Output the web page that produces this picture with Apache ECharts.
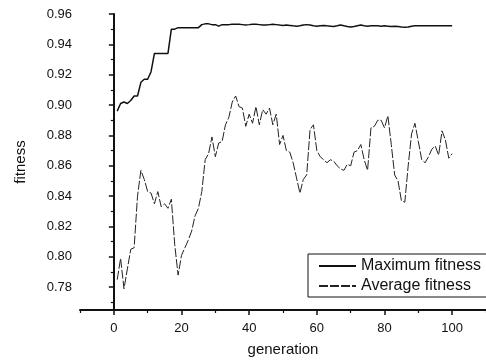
<!DOCTYPE html>
<html>
<head>
<meta charset="utf-8">
<script src="https://cdn.jsdelivr.net/npm/echarts@6/dist/echarts.min.js"></script>
<style>
  html, body { margin: 0; padding: 0; background: #fff; }
  #chart { width: 486px; height: 362px; }
</style>
</head>
<body>
<div id="chart"></div>
<script>
// generations 1..100
const generations = Array.from({ length: 100 }, (_, i) => i + 1);

const maxFitness = [
  0.896, 0.901, 0.902, 0.901, 0.903, 0.906, 0.906, 0.915, 0.917, 0.917,
  0.922, 0.934, 0.934, 0.934, 0.934, 0.934, 0.950, 0.950, 0.951, 0.951,
  0.951, 0.951, 0.951, 0.951, 0.951, 0.953, 0.9535, 0.9535, 0.953, 0.953,
  0.952, 0.953, 0.953, 0.953, 0.9532, 0.9533, 0.9532, 0.9530, 0.9528, 0.9530,
  0.9533, 0.9532, 0.9530, 0.9528, 0.9527, 0.9530, 0.9532, 0.9530, 0.9527, 0.9525,
  0.9527, 0.9525, 0.9522, 0.9520, 0.9522, 0.9527, 0.9530, 0.9527, 0.9522, 0.9520,
  0.9523, 0.9525, 0.9522, 0.9520, 0.9518, 0.9522, 0.9527, 0.9522, 0.9518, 0.9515,
  0.9518, 0.9523, 0.9527, 0.9523, 0.9520, 0.9522, 0.9523, 0.9522, 0.9520, 0.9522,
  0.9520, 0.9518, 0.9520, 0.9518, 0.9515, 0.9513, 0.9515, 0.9520, 0.9522, 0.9523,
  0.9522, 0.9522, 0.9523, 0.9522, 0.9523, 0.9522, 0.9523, 0.9522, 0.9523, 0.9523,
];

const avgFitness = [
  0.785, 0.799, 0.779, 0.792, 0.805, 0.806, 0.840, 0.857, 0.851, 0.843,
  0.842, 0.835, 0.843, 0.833, 0.835, 0.832, 0.838, 0.808, 0.788, 0.801,
  0.806, 0.811, 0.817, 0.827, 0.832, 0.843, 0.864, 0.868, 0.879, 0.866,
  0.875, 0.876, 0.887, 0.892, 0.902, 0.906, 0.899, 0.898, 0.886, 0.894,
  0.888, 0.899, 0.887, 0.897, 0.894, 0.898, 0.887, 0.894, 0.874, 0.880,
  0.870, 0.869, 0.862, 0.852, 0.842, 0.851, 0.854, 0.884, 0.887, 0.870,
  0.866, 0.864, 0.862, 0.864, 0.863, 0.860, 0.858, 0.857, 0.861, 0.860,
  0.869, 0.870, 0.874, 0.864, 0.857, 0.885, 0.886, 0.890, 0.890, 0.885,
  0.893, 0.874, 0.854, 0.850, 0.837, 0.836, 0.860, 0.881, 0.888, 0.876,
  0.864, 0.862, 0.866, 0.871, 0.873, 0.867, 0.883, 0.877, 0.865, 0.868,
];

const xMajorTicks = [0, 20, 40, 60, 80, 100];
const xMinorTicks = [-10, 10, 30, 50, 70, 90, 110];
const yMajorTicks = [0.78, 0.80, 0.82, 0.84, 0.86, 0.88, 0.90, 0.92, 0.94, 0.96];
const yMinorTicks = [0.77, 0.79, 0.81, 0.83, 0.85, 0.87, 0.89, 0.91, 0.93, 0.95];

const FONT = "Liberation Sans, Arial, sans-serif";
const INK = "#111";

const chart = echarts.init(document.getElementById("chart"));

const xBase = {
  type: "value",
  min: -10,
  max: 110,
  splitLine: { show: false },
};
const yBase = {
  type: "value",
  min: 0.765,
  max: 0.96,
  splitLine: { show: false },
};

chart.setOption({
  animation: false,
  grid: { left: 80, right: 0, top: 14, bottom: 47 },
  legend: {
    orient: "vertical",
    left: 308,
    top: 254,
    padding: [4, 8, 3, 10],
    itemWidth: 37,
    itemHeight: 14,
    itemGap: 4,
    borderColor: INK,
    borderWidth: 1,
    // line series put a circle in the legend icon, hide it
    itemStyle: { opacity: 0 },
    textStyle: { fontFamily: FONT, fontSize: 16, color: INK },
    data: ["Maximum fitness", "Average fitness"],
  },
  xAxis: [
    {
      ...xBase,
      name: "generation",
      nameLocation: "middle",
      nameGap: 32,
      nameTextStyle: { fontFamily: FONT, fontSize: 15, color: INK },
      axisLine: { lineStyle: { color: INK, width: 2 } },
      axisTick: { length: 5, customValues: xMajorTicks, lineStyle: { color: INK, width: 1.5 } },
      axisLabel: { customValues: xMajorTicks, margin: 12, fontFamily: FONT, fontSize: 13, color: INK },
    },
    {
      ...xBase,
      position: "bottom",
      axisLine: { show: false },
      axisTick: { length: 3, customValues: xMinorTicks, lineStyle: { color: INK, width: 1.2 } },
      axisLabel: { show: false },
    },
  ],
  yAxis: [
    {
      ...yBase,
      name: "fitness",
      nameLocation: "middle",
      nameGap: 52,
      nameTextStyle: { fontFamily: FONT, fontSize: 15, color: INK },
      axisLine: { show: true, lineStyle: { color: INK, width: 2 } },
      axisTick: { show: true, length: 5, customValues: yMajorTicks, lineStyle: { color: INK, width: 1.5 } },
      axisLabel: {
        customValues: yMajorTicks,
        margin: 8,
        fontFamily: FONT,
        fontSize: 13,
        color: INK,
        formatter: (v) => v.toFixed(2),
      },
    },
    {
      ...yBase,
      position: "left",
      axisLine: { show: false },
      axisTick: { show: true, length: 3, customValues: yMinorTicks, lineStyle: { color: INK, width: 1.2 } },
      axisLabel: { show: false },
    },
  ],
  series: [
    {
      name: "Maximum fitness",
      type: "line",
      symbol: "none",
      data: generations.map((g, i) => [g, maxFitness[i]]),
      lineStyle: { color: INK, width: 1.5 },
      itemStyle: { color: INK },
    },
    {
      name: "Average fitness",
      type: "line",
      symbol: "none",
      data: generations.map((g, i) => [g, avgFitness[i]]),
      lineStyle: { color: "#222", width: 1, type: [9, 2] },
      itemStyle: { color: "#222" },
    },
  ],
});
</script>
</body>
</html>
